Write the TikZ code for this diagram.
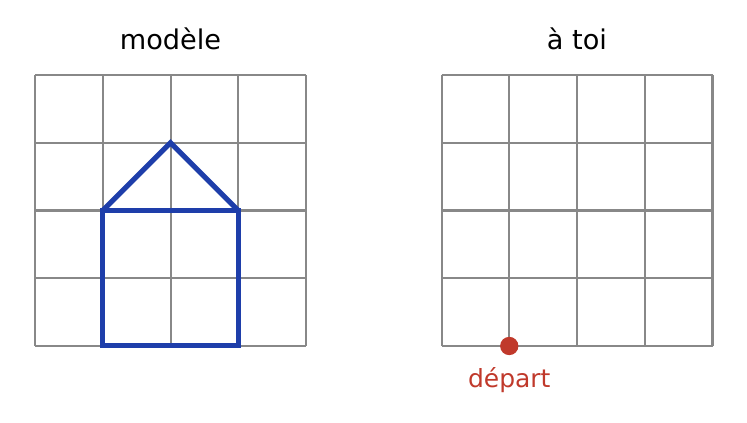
\documentclass[tikz,border=0pt]{standalone}
\usepackage{fontspec}
\setmainfont{DejaVu Sans}
\usepackage{xcolor}
\definecolor{grid-grey}{RGB}{136,136,136}
\definecolor{house-blue}{RGB}{30,62,170}
\definecolor{start-red}{RGB}{192,57,43}
\usetikzlibrary{positioning}
\tikzstyle{gridline}=[line width=0.85pt,grid-grey]
\tikzstyle{house}=[line width=2.1pt,house-blue]
\tikzstyle{title}=[font=\fontsize{11.4}{14}\selectfont]

\begin{document}
\begin{tikzpicture}[x=1cm,y=1cm]
	\useasboundingbox (-0.517,-1.122) rectangle (10.509,5.107);
	\draw[gridline] (0,0) grid (4,4);
	\draw[gridline] (6,0) grid (10,4);
	\draw[house] (1,0) rectangle (3,2);
	\draw[house] (1,2) -- (2,3) -- (3,2);
	\node[title] (modele) at (2,4.53) {modèle};
	\node[title] (atoi) at (8,4.53) {à toi};
	\fill[start-red] (7,0) circle (0.135);
	\coordinate (start) at (7,0);
	\node[start-red,font=\fontsize{10.5}{12}\selectfont,below=0.2cm of start] (depart) {départ};
\end{tikzpicture}
\end{document}
